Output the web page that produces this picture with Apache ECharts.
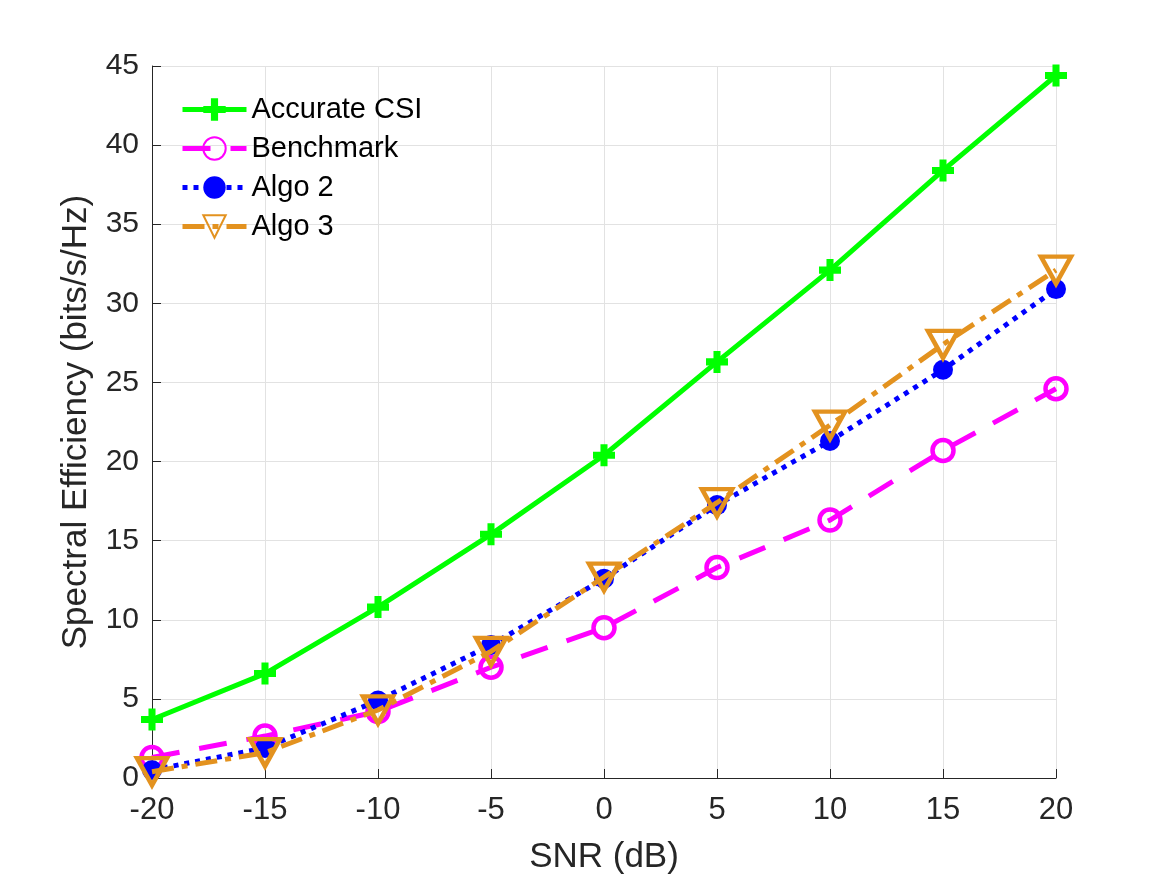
<!DOCTYPE html>
<html>
<head>
<meta charset="utf-8">
<script src="https://cdn.jsdelivr.net/npm/echarts@6/dist/echarts.min.js"></script>
<style>
html,body{margin:0;padding:0;background:#fff;}
#chart{width:1167px;height:875px;}
</style>
</head>
<body>
<div id="chart"></div>
<script>
const snr = [-20, -15, -10, -5, 0, 5, 10, 15, 20];
const accurateCSI = [3.7, 6.6, 10.8, 15.4, 20.4, 26.3, 32.1, 38.4, 44.4];
const benchmark = [1.3, 2.65, 4.2, 7.0, 9.5, 13.3, 16.3, 20.7, 24.6];
const algo2 = [0.5, 1.9, 4.9, 8.4, 12.6, 17.25, 21.3, 25.8, 30.9];
const algo3 = [0.4, 1.6, 4.3, 8.0, 12.7, 17.4, 22.3, 27.4, 32.1];
const seriesNames = ['Accurate CSI', 'Benchmark', 'Algo 2', 'Algo 3'];

const pairs = ys => snr.map((x, i) => [x, ys[i]]);
const FONT = 'Liberation Sans, Arial, Helvetica, sans-serif';
const GREEN = '#00ff00', MAGENTA = '#ff00ff', BLUE = '#0000ff', ORANGE = '#e3921f';
const PLUS = 'path://M3.4,0H6.6V3.4H10V6.6H6.6V10H3.4V6.6H0V3.4H3.4Z';
const TRI = 'path://M0,0L10,0L5,9Z';

const chart = echarts.init(document.getElementById('chart'), null, {renderer: 'canvas'});
chart.setOption({
  animation: false,
  backgroundColor: '#ffffff',
  grid: {left: 152, right: 111, top: 66, bottom: 97, containLabel: false, outerBoundsMode: 'none'},
  legend: {
    orient: 'vertical', left: 175, top: 90, itemGap: 10, itemWidth: 64, itemHeight: 28,
    textStyle: {fontFamily: FONT, fontSize: 29, color: '#000'},
    data: seriesNames.map(n => ({name: n, lineStyle: {width: 5}}))
  },
  xAxis: {
    type: 'value', min: -20, max: 20, interval: 5,
    name: 'SNR (dB)', nameLocation: 'middle', nameGap: 62,
    nameTextStyle: {fontFamily: FONT, fontSize: 35, color: '#262626'},
    axisLine: {onZero: false, lineStyle: {color: '#262626', width: 1}},
    axisTick: {inside: true, length: 9, lineStyle: {color: '#262626'}},
    axisLabel: {fontFamily: FONT, fontSize: 31, color: '#262626', margin: 17},
    splitLine: {show: true, lineStyle: {color: '#e2e2e2', width: 1}}
  },
  yAxis: {
    type: 'value', min: 0, max: 45, interval: 5,
    name: 'Spectral Efficiency (bits/s/Hz)', nameLocation: 'middle', nameGap: 58,
    nameTextStyle: {fontFamily: FONT, fontSize: 35, color: '#262626'},
    axisLine: {show: true, onZero: false, lineStyle: {color: '#262626', width: 1}},
    axisTick: {show: true, inside: true, length: 9, lineStyle: {color: '#262626'}},
    axisLabel: {fontFamily: FONT, fontSize: 30, color: '#262626', margin: 13},
    splitLine: {show: true, lineStyle: {color: '#e2e2e2', width: 1}}
  },
  series: [
    {
      name: seriesNames[0], type: 'line', data: pairs(accurateCSI),
      symbol: PLUS, symbolSize: 22,
      lineStyle: {color: GREEN, width: 5, type: 'solid'},
      itemStyle: {color: GREEN}, z: 2
    },
    {
      name: seriesNames[1], type: 'line', data: pairs(benchmark),
      symbol: 'circle', symbolSize: 21,
      lineStyle: {color: MAGENTA, width: 5, type: [28, 20]},
      itemStyle: {color: 'rgba(255,255,255,0)', borderColor: MAGENTA, borderWidth: 4.5}, z: 3
    },
    {
      name: seriesNames[2], type: 'line', data: pairs(algo2),
      symbol: 'circle', symbolSize: 20,
      lineStyle: {color: BLUE, width: 5, type: [5, 6]},
      itemStyle: {color: BLUE}, z: 4
    },
    {
      name: seriesNames[3], type: 'line', data: pairs(algo3),
      symbol: TRI, symbolSize: [30, 27],
      lineStyle: {color: ORANGE, width: 5, type: [22, 8, 6, 8]},
      itemStyle: {color: 'rgba(255,255,255,0)', borderColor: ORANGE, borderWidth: 4.5}, z: 5
    }
  ]
});
</script>
</body>
</html>
